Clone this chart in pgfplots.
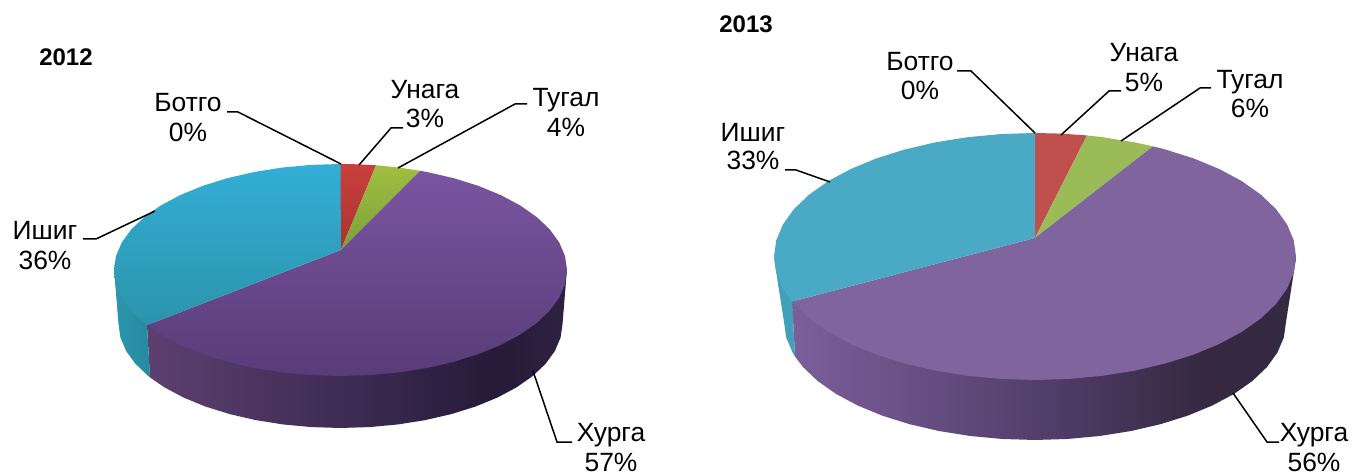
\documentclass[border=0pt]{standalone}
\usepackage{pgfplots}
\pgfplotsset{compat=1.18}
\usepackage{fontspec}
\setmainfont{Liberation Sans}
\definecolor{wa1}{HTML}{5C4070}\definecolor{wa2}{HTML}{3C2B52}\definecolor{wa3}{HTML}{261A38}\definecolor{wa4}{HTML}{2E2142}
\definecolor{wb1}{HTML}{7B5F9A}\definecolor{wb2}{HTML}{523E6B}\definecolor{wb3}{HTML}{352840}\definecolor{wb4}{HTML}{342A42}
\pgfdeclarehorizontalshading{wallA}{100bp}{color(0bp)=(wa1);color(25bp)=(wa1);color(50bp)=(wa2);color(66bp)=(wa3);color(75bp)=(wa4);color(100bp)=(wa4)}
\pgfdeclarehorizontalshading{wallB}{100bp}{color(0bp)=(wb1);color(25bp)=(wb1);color(50bp)=(wb2);color(66bp)=(wb3);color(75bp)=(wb4);color(100bp)=(wb4)}
\pgfplotsset{pie/.style={hide axis,scale only axis,clip=false,xmin=-1,xmax=1,ymin=-1,ymax=1,anchor=center},
 leader/.style={solid,color=black,line width=.75pt,mark=none}}
\newcommand{\lab}[3]{\node[anchor=base,inner sep=0pt,font=\fontsize{13.2}{14}\selectfont] at (axis cs:#1,#2) {#3};}
\begin{document}
\begin{tikzpicture}
\useasboundingbox (0,0) rectangle (677pt,237.5pt);
% ---- 2012 side wall
\begin{axis}[pie,at={(170.25pt,75.5pt)},width=222pt,height=104pt]
\addplot[draw=none,shading=wallA] coordinates {(1.02,.52)(1,0)(.9914,-.1305)(.9659,-.2588)(.9239,-.3827)(.866,-.5)(.7934,-.6088)(.7071,-.7071)(.6088,-.7934)(.5,-.866)(.3827,-.9239)(.2588,-.9659)(.1305,-.9914)(0,-1)(-.1305,-.9914)(-.2588,-.9659)(-.3827,-.9239)(-.5,-.866)(-.6088,-.7934)(-.7071,-.7071)(-.7934,-.6088)(-.858,-.514)(-.872,0)};
\addplot[draw=none,left color={rgb,255:red,43;green,151;blue,174},right color={rgb,255:red,37;green,138;blue,159}] coordinates {(-.872,0)(-.858,-.514)(-.866,-.5)(-.9239,-.3827)(-.9659,-.2588)(-.9914,-.1305)(-1,0)(-1.02,.52)};
\end{axis}
% ---- 2012 top
\begin{axis}[pie,at={(170.25pt,102.5pt)},width=226.5pt,height=106pt]
\addplot[draw=none,top color={rgb,255:red,201;green,64;blue,60},bottom color={rgb,255:red,170;green,50;blue,48}] coordinates {(.002,.189)(0,1)(.078,.997)(.157,.9877)};
\addplot[draw=none,top color={rgb,255:red,160;green,190;blue,64},bottom color={rgb,255:red,122;green,160;blue,58}] coordinates {(.002,.189)(.157,.9877)(.2588,.9659)(.351,.936)};
\addplot[draw=none,top color={rgb,255:red,122;green,85;blue,160},bottom color={rgb,255:red,88;green,60;blue,120}] coordinates {(.002,.189)(.351,.936)(.3827,.9239)(.5,.866)(.6088,.7934)(.7071,.7071)(.7934,.6088)(.866,.5)(.9239,.3827)(.9659,.2588)(.9914,.1305)(1,0)(.9914,-.1305)(.9659,-.2588)(.9239,-.3827)(.866,-.5)(.7934,-.6088)(.7071,-.7071)(.6088,-.7934)(.5,-.866)(.3827,-.9239)(.2588,-.9659)(.1305,-.9914)(0,-1)(-.1305,-.9914)(-.2588,-.9659)(-.3827,-.9239)(-.5,-.866)(-.6088,-.7934)(-.7071,-.7071)(-.7934,-.6088)(-.854,-.52)};
\addplot[draw=none,top color={rgb,255:red,51;green,174;blue,213},bottom color={rgb,255:red,43;green,148;blue,172}] coordinates {(.002,.189)(-.854,-.52)(-.866,-.5)(-.9239,-.3827)(-.9659,-.2588)(-.9914,-.1305)(-1,0)(-.9914,.1305)(-.9659,.2588)(-.9239,.3827)(-.866,.5)(-.7934,.6088)(-.7071,.7071)(-.6088,.7934)(-.5,.866)(-.3827,.9239)(-.2588,.9659)(-.1305,.9914)(0,1)};
\end{axis}
% ---- 2013 side wall
\begin{axis}[pie,at={(517.5pt,76.5pt)},width=251pt,height=118pt]
\addplot[draw=none,shading=wallB] coordinates {(1.04,.542)(1,0)(.9914,-.1305)(.9659,-.2588)(.9239,-.3827)(.866,-.5)(.7934,-.6088)(.7071,-.7071)(.6088,-.7934)(.5,-.866)(.3827,-.9239)(.2588,-.9659)(.1305,-.9914)(0,-1)(-.1305,-.9914)(-.2588,-.9659)(-.3827,-.9239)(-.5,-.866)(-.6088,-.7934)(-.7071,-.7071)(-.7934,-.6088)(-.866,-.5)(-.9239,-.3827)(-.956,-.293)(-.968,.178)};
\addplot[draw=none,fill={rgb,255:red,66;green,160;blue,186}] coordinates {(-.968,.178)(-.956,-.293)(-.9659,-.2588)(-.9914,-.1305)(-1,0)(-1.04,.542)};
\end{axis}
% ---- 2013 top
\begin{axis}[pie,at={(517.5pt,109.25pt)},width=261pt,height=123.5pt]
\addplot[draw=none,fill={rgb,255:red,192;green,80;blue,77}] coordinates {(0,.15)(0,1)(.1,.995)(.199,.98)};
\addplot[draw=none,fill={rgb,255:red,155;green,187;blue,89}] coordinates {(0,.15)(.199,.98)(.2588,.9659)(.3827,.9239)(.452,.892)};
\addplot[draw=none,fill={rgb,255:red,128;green,100;blue,158}] coordinates {(0,.15)(.452,.892)(.5,.866)(.6088,.7934)(.7071,.7071)(.7934,.6088)(.866,.5)(.9239,.3827)(.9659,.2588)(.9914,.1305)(1,0)(.9914,-.1305)(.9659,-.2588)(.9239,-.3827)(.866,-.5)(.7934,-.6088)(.7071,-.7071)(.6088,-.7934)(.5,-.866)(.3827,-.9239)(.2588,-.9659)(.1305,-.9914)(0,-1)(-.1305,-.9914)(-.2588,-.9659)(-.3827,-.9239)(-.5,-.866)(-.6088,-.7934)(-.7071,-.7071)(-.7934,-.6088)(-.866,-.5)(-.931,-.365)};
\addplot[draw=none,fill={rgb,255:red,74;green,170;blue,197}] coordinates {(0,.15)(-.931,-.365)(-.9659,-.2588)(-.9914,-.1305)(-1,0)(-.9914,.1305)(-.9659,.2588)(-.9239,.3827)(-.866,.5)(-.7934,.6088)(-.7071,.7071)(-.6088,.7934)(-.5,.866)(-.3827,.9239)(-.2588,.9659)(-.1305,.9914)(0,1)};
\end{axis}
% ---- leaders and labels, in picture pixels
\begin{axis}[hide axis,scale only axis,clip=false,at={(0pt,0pt)},anchor=south west,width=677pt,height=237.5pt,xmin=0,xmax=1354,ymin=0,ymax=475,y dir=reverse]
\addplot[leader] coordinates {(227,112)(238,112)(341,164)};
\addplot[leader] coordinates {(403,128)(391,128)(359,165)};
\addplot[leader] coordinates {(527,104)(515,104)(398,168)};
\addplot[leader] coordinates {(83,239)(96,239)(155,211)};
\addplot[leader] coordinates {(533,371)(557,442)(572,442)};
\addplot[leader] coordinates {(957,71)(971,71)(1035,133)};
\addplot[leader] coordinates {(1121,91)(1109,91)(1061,135)};
\addplot[leader] coordinates {(1211,88)(1200,88)(1121,141)};
\addplot[leader] coordinates {(785,170)(796,170)(830,182)};
\addplot[leader] coordinates {(1233,393)(1267,442)(1279,442)};
\node[anchor=base,inner sep=0pt,font=\fontsize{12}{14}\selectfont\bfseries] at (axis cs:66,66) {2012};
\node[anchor=base,inner sep=0pt,font=\fontsize{12}{14}\selectfont\bfseries] at (axis cs:746,33) {2013};
\lab{188}{112}{Ботго}\lab{188}{142}{0\%}
\lab{425}{99}{Унага}\lab{425}{128}{3\%}
\lab{566}{107}{Тугал}\lab{566}{137}{4\%}
\lab{45}{240}{Ишиг}\lab{45}{270}{36\%}
\lab{611}{442}{Хурга}\lab{611}{472}{57\%}
\lab{920}{71}{Ботго}\lab{920}{100}{0\%}
\lab{1144}{62}{Унага}\lab{1144}{92}{5\%}
\lab{1250}{89}{Тугал}\lab{1250}{118}{6\%}
\lab{753}{142}{Ишиг}\lab{753}{170}{33\%}
\lab{1314}{442}{Хурга}\lab{1314}{472}{56\%}
\end{axis}
\end{tikzpicture}
\end{document}
